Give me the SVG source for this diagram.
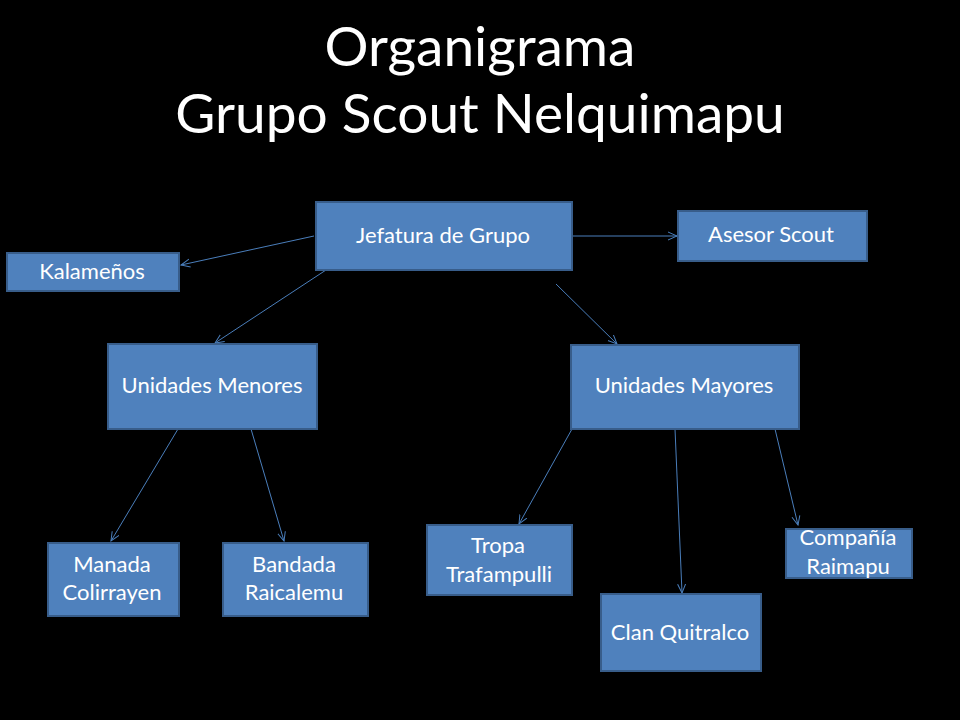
<svg xmlns="http://www.w3.org/2000/svg" width="960" height="720" viewBox="0 0 960 720">
<style>
.bg{fill:#000}
.title{font-family:Lato,"Open Sans","Liberation Sans",sans-serif;font-size:55px;fill:#fff;text-anchor:middle}
.box{fill:#4f81bd;stroke:#385d8a;stroke-width:2}
.lbl{font-family:Lato,"Open Sans","Liberation Sans",sans-serif;font-size:22px;fill:#fff;text-anchor:middle}
.con{stroke:#4a7ebb;stroke-width:1;fill:none;marker-end:url(#arr)}
</style>
<defs>
<marker id="arr" viewBox="0 0 10 10" refX="9" refY="5" markerWidth="10" markerHeight="10" markerUnits="userSpaceOnUse" orient="auto">
<path d="M0,1 L9,5 L0,9" fill="none" stroke="#4a7ebb" stroke-width="1"/>
</marker>
</defs>
<rect class="bg" x="0" y="0" width="960" height="720"/>
<g id="title">
<text class="title" x="480" y="66">Organigrama</text>
<text class="title" x="480" y="133">Grupo Scout Nelquimapu</text>
</g>
<g id="connectors">
<line class="con" x1="314" y1="236" x2="181" y2="265"/>
<line class="con" x1="326" y1="270" x2="215" y2="343"/>
<line class="con" x1="572" y1="236" x2="677" y2="236"/>
<line class="con" x1="556" y1="284" x2="617" y2="344"/>
<line class="con" x1="178" y1="429" x2="111" y2="541"/>
<line class="con" x1="251" y1="429" x2="284" y2="541"/>
<line class="con" x1="572" y1="429" x2="519" y2="524"/>
<line class="con" x1="675" y1="429" x2="682" y2="593"/>
<line class="con" x1="775" y1="429" x2="798" y2="525"/>
</g>
<g id="jefatura">
<rect class="box" x="316" y="202" width="256" height="68"/>
<text class="lbl" x="443" y="243">Jefatura de Grupo</text>
</g>
<g id="kalamenos">
<rect class="box" x="7" y="253" width="172" height="38"/>
<text class="lbl" x="92" y="279">Kalameños</text>
</g>
<g id="asesor">
<rect class="box" x="678" y="211" width="189" height="50"/>
<text class="lbl" x="771" y="242">Asesor Scout</text>
</g>
<g id="menores">
<rect class="box" x="108" y="344" width="209" height="85"/>
<text class="lbl" x="212" y="393">Unidades Menores</text>
</g>
<g id="mayores">
<rect class="box" x="571" y="345" width="228" height="84"/>
<text class="lbl" x="684" y="393">Unidades Mayores</text>
</g>
<g id="manada">
<rect class="box" x="48" y="543" width="131" height="73"/>
<text class="lbl" x="112" y="572">Manada</text>
<text class="lbl" x="112" y="600">Colirrayen</text>
</g>
<g id="bandada">
<rect class="box" x="223" y="543" width="145" height="73"/>
<text class="lbl" x="294" y="572">Bandada</text>
<text class="lbl" x="294" y="600">Raicalemu</text>
</g>
<g id="tropa">
<rect class="box" x="427" y="525" width="145" height="70"/>
<text class="lbl" x="498" y="553">Tropa</text>
<text class="lbl" x="499" y="582">Trafampulli</text>
</g>
<g id="clan">
<rect class="box" x="601" y="594" width="160" height="77"/>
<text class="lbl" x="680" y="640">Clan Quitralco</text>
</g>
<g id="compania">
<rect class="box" x="786" y="529" width="126" height="49"/>
<text class="lbl" x="848" y="545">Compañía</text>
<text class="lbl" x="848" y="574">Raimapu</text>
</g>
</svg>
